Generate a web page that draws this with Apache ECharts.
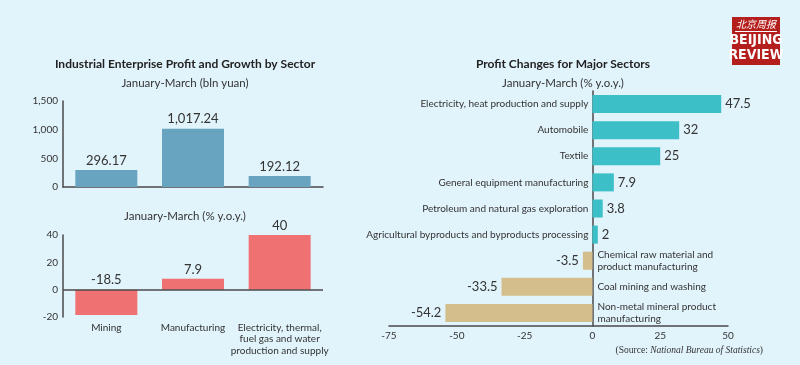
<!DOCTYPE html>
<html>
<head>
<meta charset="utf-8">
<script src="https://cdn.jsdelivr.net/npm/echarts@6/dist/echarts.min.js"></script>
<style>html,body{margin:0;padding:0;background:#e1f3fb;}#c{width:800px;height:365px;}</style>
</head>
<body>
<div id="c"></div>
<script>
// ---- data ----
const sectorCats = ['Mining', 'Manufacturing', 'Electricity, thermal,\nfuel gas and water\nproduction and supply'];
const profitVals = [296.17, 1017.24, 192.12];
const growthVals = [-18.5, 7.9, 40];
const majorCats = [
  'Electricity, heat production and supply',
  'Automobile',
  'Textile',
  'General equipment manufacturing',
  'Petroleum and natural gas exploration',
  'Agricultural byproducts and byproducts processing',
  'Chemical raw material and\nproduct manufacturing',
  'Coal mining and washing',
  'Non-metal mineral product\nmanufacturing'
];
const majorVals = [47.5, 32, 25, 7.9, 3.8, 2, -3.5, -33.5, -54.2];

const FONT = 'Lato, "Open Sans", sans-serif';
const AX = '#4a4a4a';
const TXT = '#333';

const chart = echarts.init(document.getElementById('c'), null, {renderer: 'canvas'});
const fmt = v => Number(v).toLocaleString('en-US');
const fmt2 = v => Number(v).toLocaleString('en-US', {minimumFractionDigits: 2, maximumFractionDigits: 2});

const option = {
  backgroundColor: '#e1f3fb',
  animation: false,
  textStyle: {fontFamily: FONT},
  title: [
    {text: 'Industrial Enterprise Profit and Growth by Sector', left: 180, top: 53, textAlign: 'center',
     textStyle: {fontSize: 12, fontWeight: 'bold', color: '#222', fontFamily: FONT}},
    {text: 'January-March (bln yuan)', left: 180, top: 72, textAlign: 'center',
     textStyle: {fontSize: 11.5, fontWeight: 'normal', color: TXT, fontFamily: FONT}},
    {text: 'January-March (% y.o.y.)', left: 180, top: 205, textAlign: 'center',
     textStyle: {fontSize: 11.5, fontWeight: 'normal', color: TXT, fontFamily: FONT}},
    {text: 'Profit Changes for Major Sectors', left: 558, top: 53, textAlign: 'center',
     textStyle: {fontSize: 12, fontWeight: 'bold', color: '#222', fontFamily: FONT}},
    {text: 'January-March (% y.o.y.)', left: 558, top: 72, textAlign: 'center',
     textStyle: {fontSize: 11.5, fontWeight: 'normal', color: TXT, fontFamily: FONT}}
  ],
  grid: [
    {left: 63, top: 101, width: 260, height: 86},
    {left: 63, top: 235, width: 260, height: 82},
    {left: 389, top: 91, width: 339, height: 235}
  ],
  xAxis: [
    {gridIndex: 0, type: 'category', data: sectorCats,
     axisLine: {lineStyle: {color: AX, width: 1.5}}, axisTick: {show: false}, axisLabel: {show: false}},
    {gridIndex: 1, type: 'category', data: sectorCats,
     axisLine: {show: false, onZero: false}, axisTick: {show: false},
     axisLabel: {color: TXT, fontSize: 10, lineHeight: 11.5, margin: 5, interval: 0, fontFamily: FONT}},
    {gridIndex: 2, type: 'value', min: -75, max: 50, interval: 25,
     axisLine: {show: true, onZero: false, lineStyle: {color: AX, width: 1.5}}, axisTick: {show: false},
     splitLine: {show: false},
     axisLabel: {color: TXT, fontSize: 10, margin: 5, fontFamily: FONT}}
  ],
  yAxis: [
    {gridIndex: 0, type: 'value', min: 0, max: 1500, interval: 500,
     axisLine: {show: true, lineStyle: {color: AX, width: 1.5}}, axisTick: {show: false}, splitLine: {show: false},
     axisLabel: {color: TXT, fontSize: 10, margin: 5, formatter: fmt, fontFamily: FONT}},
    {gridIndex: 1, type: 'value', min: -20, max: 40, interval: 20,
     axisLine: {show: true, lineStyle: {color: AX, width: 1.5}}, axisTick: {show: false}, splitLine: {show: false},
     axisLabel: {color: TXT, fontSize: 10, margin: 5, fontFamily: FONT}},
    {gridIndex: 2, type: 'category', data: majorCats, inverse: true,
     axisLine: {show: true, onZero: true, lineStyle: {color: AX, width: 1.5}}, axisTick: {show: false},
     axisLabel: {show: false}}
  ],
  series: [
    {type: 'bar', xAxisIndex: 0, yAxisIndex: 0, data: profitVals, barWidth: 62,
     itemStyle: {color: '#68a4bf'},
     label: {show: true, position: 'top', distance: 3, color: TXT, fontSize: 13, fontFamily: FONT,
             formatter: p => fmt2(p.value)}},
    {type: 'bar', xAxisIndex: 1, yAxisIndex: 1, data: growthVals, barWidth: 62,
     itemStyle: {color: '#f07171'},
     label: {show: true, position: 'top', distance: 3, color: TXT, fontSize: 13, fontFamily: FONT},
     markLine: {silent: true, symbol: 'none', label: {show: false},
                lineStyle: {color: AX, width: 1.5, type: 'solid'}, data: [{yAxis: 0}]}},
    {type: 'bar', xAxisIndex: 2, yAxisIndex: 2, barWidth: 18, barGap: '-100%',
     data: majorVals.map(v => ({value: v,
       itemStyle: {color: v >= 0 ? '#3cbfc7' : '#d4be8b'},
       label: {position: v >= 0 ? 'right' : 'left'}})),
     label: {show: true, distance: 4, color: TXT, fontSize: 13, fontFamily: FONT}},
    {type: 'bar', xAxisIndex: 2, yAxisIndex: 2, barWidth: 18, barGap: '-100%', silent: true,
     data: majorVals.map(v => ({value: 0,
       label: {position: v >= 0 ? 'left' : 'right', distance: v >= 0 ? 4 : 5}})),
     itemStyle: {color: 'rgba(0,0,0,0)'},
     label: {show: true, color: TXT, fontSize: 10, lineHeight: 11.5, fontFamily: FONT,
             formatter: p => majorCats[p.dataIndex]}}
  ],
  graphic: [
    {type: 'rect', x: 732, y: 17, shape: {width: 48, height: 48}, style: {fill: '#b41f1d'}, silent: true},
    {type: 'text', x: 756, y: 19, style: {text: '北京周报', fill: '#fff', fontSize: 10, align: 'center',
      fontFamily: '"Noto Sans CJK SC", sans-serif', fontStyle: 'italic'}},
    {type: 'rect', x: 735, y: 31, shape: {width: 42, height: 1}, style: {fill: '#fff'}},
    {type: 'text', x: 756, y: 33, style: {text: 'BEIJING', fill: '#fff', fontSize: 14, fontWeight: 'bold',
      align: 'center', fontFamily: '"Liberation Sans Narrow", "DejaVu Sans Condensed", sans-serif'}},
    {type: 'text', x: 756, y: 48, style: {text: 'REVIEW', fill: '#fff', fontSize: 14, fontWeight: 'bold',
      align: 'center', fontFamily: '"Liberation Sans Narrow", "DejaVu Sans Condensed", sans-serif'}},
    {type: 'text', x: 763, y: 345, style: {align: 'right',
      text: '{n|(Source: }{i|National Bureau of Statistics}{n|)}',
      rich: {
        n: {fontSize: 9.5, fill: TXT, fontFamily: '"Liberation Serif", "DejaVu Serif", serif'},
        i: {fontSize: 9.5, fill: TXT, fontStyle: 'italic', fontFamily: '"Liberation Serif", "DejaVu Serif", serif'}
      }}}
  ]
};
chart.setOption(option);
</script>
</body>
</html>
